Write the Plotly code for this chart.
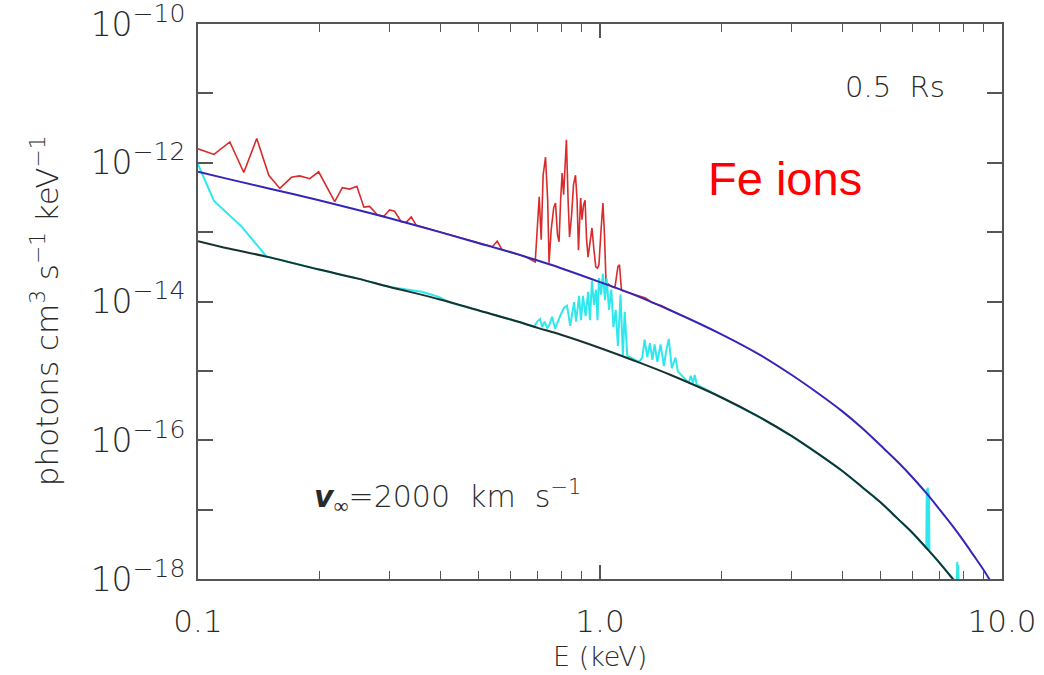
import plotly.graph_objects as go

# ---------------- data ----------------
# continuum grid (keV)
cont_E = [0.1, 0.12, 0.15, 0.2, 0.25, 0.3, 0.4, 0.5, 0.6, 0.7, 0.8, 1.0, 1.2, 1.5,
          2.0, 2.5, 3.0, 3.5, 4.0, 4.5, 5.0, 5.5, 6.0, 6.5, 7.0, 7.5, 8.0, 8.5,
          9.0, 9.5, 10.0]
# log10 flux of the blue continuum
blue_log = [-12.13, -12.24, -12.37, -12.54, -12.68, -12.80, -13.00, -13.16, -13.29,
            -13.41, -13.52, -13.72, -13.89, -14.13, -14.47, -14.77, -15.06, -15.33,
            -15.58, -15.83, -16.08, -16.31, -16.54, -16.77, -17.00, -17.22, -17.44,
            -17.66, -17.87, -18.09, -18.30]
# log10 flux of the black continuum
black_log = [-13.13, -13.24, -13.36, -13.54, -13.67, -13.79, -13.97, -14.13, -14.26,
             -14.38, -14.48, -14.67, -14.84, -15.06, -15.38, -15.67, -15.94, -16.20,
             -16.44, -16.68, -16.90, -17.13, -17.34, -17.56, -17.77, -17.98, -18.18,
             -18.39, -18.59, -18.79, -18.99]

# red spectrum (Fe ions, total)
red_E = [0.100, 0.1096, 0.120, 0.130, 0.140, 0.150, 0.1598, 0.1708, 0.179, 0.1897,
         0.1996, 0.2188, 0.2286, 0.2383, 0.2484, 0.2586, 0.2672, 0.2792, 0.2900,
         0.2996, 0.3083, 0.3203, 0.3296, 0.3392, 0.3488, 0.40, 0.45, 0.50, 0.54,
         0.555, 0.57, 0.60, 0.65,
         0.690, 0.700, 0.706, 0.714, 0.722, 0.732, 0.741, 0.747, 0.756, 0.767,
         0.775, 0.784, 0.791, 0.798, 0.805, 0.812, 0.816, 0.825, 0.833, 0.840,
         0.850, 0.859, 0.869, 0.877, 0.884, 0.895, 0.902, 0.910, 0.918, 0.926,
         0.934, 0.944, 0.955, 0.966, 0.976, 0.986, 0.994, 1.006, 1.017, 1.026,
         1.035, 1.065, 1.089, 1.108, 1.118, 1.131, 1.25, 1.298, 1.35, 1.424, 1.5]
red_log = [-11.80, -11.88, -11.70, -12.14, -11.65, -12.18, -12.37, -12.21, -12.19,
           -12.23, -12.13, -12.56, -12.36, -12.38, -12.34, -12.64, -12.63, -12.75,
           -12.77, -12.68, -12.70, -12.85, -12.86, -12.78, -12.90, -13.00, -13.08,
           -13.16, -13.21, -13.13, -13.25, -13.29, -13.35,
           -13.43, -12.75, -12.49, -13.11, -12.18, -11.92, -12.54, -13.44, -12.97,
           -12.65, -12.58, -13.04, -13.14, -12.54, -12.15, -12.46, -12.22, -11.67,
           -12.54, -13.07, -12.75, -12.32, -12.18, -12.54, -13.26, -12.51, -12.82,
           -12.61, -12.54, -13.11, -13.36, -13.14, -12.94, -13.26, -13.50, -13.52,
           -13.47, -12.97, -12.58, -13.04, -13.72, -13.78, -13.80, -13.50, -13.47,
           -13.84, -13.92, -13.95, -14.02, -14.06, -14.13]

# cyan spectrum (Fe ions, second component)
cyan_E = [0.100, 0.1096, 0.1284, 0.148, 0.20, 0.25, 0.30, 0.34, 0.36, 0.38, 0.40,
          0.42, 0.50, 0.60,
          0.686, 0.698, 0.710, 0.718, 0.728, 0.739, 0.747, 0.760, 0.773, 0.787,
          0.800, 0.814, 0.828, 0.843, 0.852, 0.862, 0.872, 0.887, 0.897, 0.907,
          0.921, 0.934, 0.944, 0.955, 0.966, 0.977, 0.986, 0.994, 1.006, 1.017,
          1.029, 1.039, 1.053, 1.067, 1.080, 1.094, 1.108, 1.125, 1.140, 1.152,
          1.169, 1.187, 1.250, 1.274, 1.291, 1.311, 1.331, 1.350, 1.367, 1.389,
          1.415, 1.442, 1.462, 1.483, 1.509, 1.541, 1.562, 1.663, 1.682, 1.702,
          1.721, 1.741, 2.0, 2.5, 3.0, 3.5, 4.0, 4.5, 5.0, 5.5, 6.0,
          6.48, 6.50, 6.52, 6.54, 6.56, 6.58, 6.60, 6.62, 7.0, 7.5, 7.72, 7.74,
          7.76, 7.78, 7.80]
cyan_log = [-12.02, -12.55, -12.92, -13.35, -13.54, -13.67, -13.79, -13.84, -13.86,
            -13.90, -13.94, -14.01, -14.13, -14.26,
            -14.36, -14.29, -14.25, -14.37, -14.29, -14.38, -14.35, -14.22, -14.39,
            -14.27, -14.18, -14.09, -14.06, -14.35, -14.15, -14.01, -14.29, -13.92,
            -14.27, -13.92, -14.21, -13.86, -14.27, -13.70, -14.05, -13.83, -14.27,
            -13.66, -13.90, -13.60, -13.98, -13.67, -14.12, -13.83, -14.37, -14.12,
            -14.64, -13.90, -14.78, -14.15, -14.78, -14.80, -14.87, -14.81, -14.55,
            -14.80, -14.60, -14.84, -14.62, -14.87, -14.62, -14.93, -14.70, -14.54,
            -14.96, -14.81, -15.01, -15.17, -15.07, -15.17, -15.06, -15.20,
            -15.38, -15.67, -15.94, -16.20, -16.44, -16.68, -16.90, -17.13, -17.34,
            -17.55, -16.70, -17.56, -16.68, -17.57, -16.75, -17.60, -17.61, -17.77,
            -17.98, -18.06, -17.75, -18.08, -17.80, -18.10]

y_tick_exp = [-18, -17, -16, -15, -14, -13, -12, -11, -10]
x_tick_vals = [0.1, 1.0, 10.0]
x_tick_text = ["0.1", "1.0", "10.0"]
x_minor_vals = [0.2, 0.3, 0.4, 0.5, 0.6, 0.7, 0.8, 0.9, 2, 3, 4, 5, 6, 7, 8, 9]

# ---------------- figure ----------------
def lin(logs):
    return [10 ** v for v in logs]

FONT = "DejaVu Sans"
TXT = "#2a2a2a"
fig = go.Figure()
fig.add_trace(go.Scatter(x=red_E, y=lin(red_log), mode="lines",
                         line=dict(color="#d92b2b", width=1.6), hoverinfo="skip"))
fig.add_trace(go.Scatter(x=cyan_E, y=lin(cyan_log), mode="lines",
                         line=dict(color="#2ee8ee", width=2), hoverinfo="skip"))
fig.add_trace(go.Scatter(x=cont_E, y=lin(blue_log), mode="lines", line_shape="spline",
                         line=dict(color="#3525b8", width=2), hoverinfo="skip"))
fig.add_trace(go.Scatter(x=cont_E, y=lin(black_log), mode="lines", line_shape="spline",
                         line=dict(color="#153330", width=2), hoverinfo="skip"))

ytext = []
for e in y_tick_exp:
    if e % 2 == 0:
        ytext.append("10<sup><span style='font-size:25px'>\u2212%d</span></sup>" % (-e))
    else:
        ytext.append("")

axis_common = dict(showgrid=False, zeroline=False, showline=True, linecolor="#555",
                   linewidth=2, mirror="ticks", ticks="inside", tickcolor="#555",
                   tickwidth=1.5, ticklabeloverflow="allow", automargin=False)

fig.update_layout(
    width=1044, height=675,
    margin=dict(l=198, r=42, t=24, b=96),
    paper_bgcolor="white", plot_bgcolor="white",
    showlegend=False,
    font=dict(family=FONT, color=TXT, size=26, weight=200),
    xaxis=dict(type="log", range=[-1, 1], tickmode="array", tickvals=x_tick_vals,
               ticktext=x_tick_text, ticklen=14, ticklabelstandoff=14,
               tickfont=dict(size=31, family=FONT, color=TXT, weight=200),
               minor=dict(tickmode="array", tickvals=x_minor_vals, ticks="inside",
                          ticklen=8, tickcolor="#555", tickwidth=1.2),
               **axis_common),
    yaxis=dict(type="log", range=[-18, -10], tickmode="array",
               tickvals=[10.0 ** e for e in y_tick_exp], ticktext=ytext, ticklen=15,
               ticklabelstandoff=4,
               tickfont=dict(size=33, family=FONT, color=TXT, weight=200),
               **axis_common),
)

fig.add_annotation(text="E (keV)", xref="paper", yref="paper", x=0.5, y=-0.139,
                   xanchor="center", yanchor="middle", showarrow=False,
                   font=dict(size=27, family=FONT, color=TXT, weight=200))
fig.add_annotation(text="photons cm<sup>3</sup> s<sup>\u22121</sup> keV<sup>\u22121</sup>",
                   xref="paper", yref="paper", x=-0.19, y=0.483, textangle=-90,
                   xanchor="center", yanchor="middle", showarrow=False,
                   font=dict(size=31, family=FONT, color=TXT, weight=200))
fig.add_annotation(text="0.5  Rs", xref="paper", yref="paper", x=0.867, y=0.887,
                   xanchor="center", yanchor="middle", showarrow=False,
                   font=dict(size=29, family=FONT, color=TXT, weight=200))
fig.add_annotation(text="Fe ions", xref="paper", yref="paper", x=0.73, y=0.722,
                   xanchor="center", yanchor="middle", showarrow=False,
                   font=dict(size=47, family="Liberation Sans", color="#ff0000"))
fig.add_annotation(text="<b><i>v</i></b><sub>\u221e</sub>=2000  km  s<sup>\u22121</sup>",
                   xref="paper", yref="paper", x=0.31, y=0.148,
                   xanchor="center", yanchor="middle", showarrow=False,
                   font=dict(size=30, family=FONT, color=TXT, weight=200))

fig.write_html("out.html")
